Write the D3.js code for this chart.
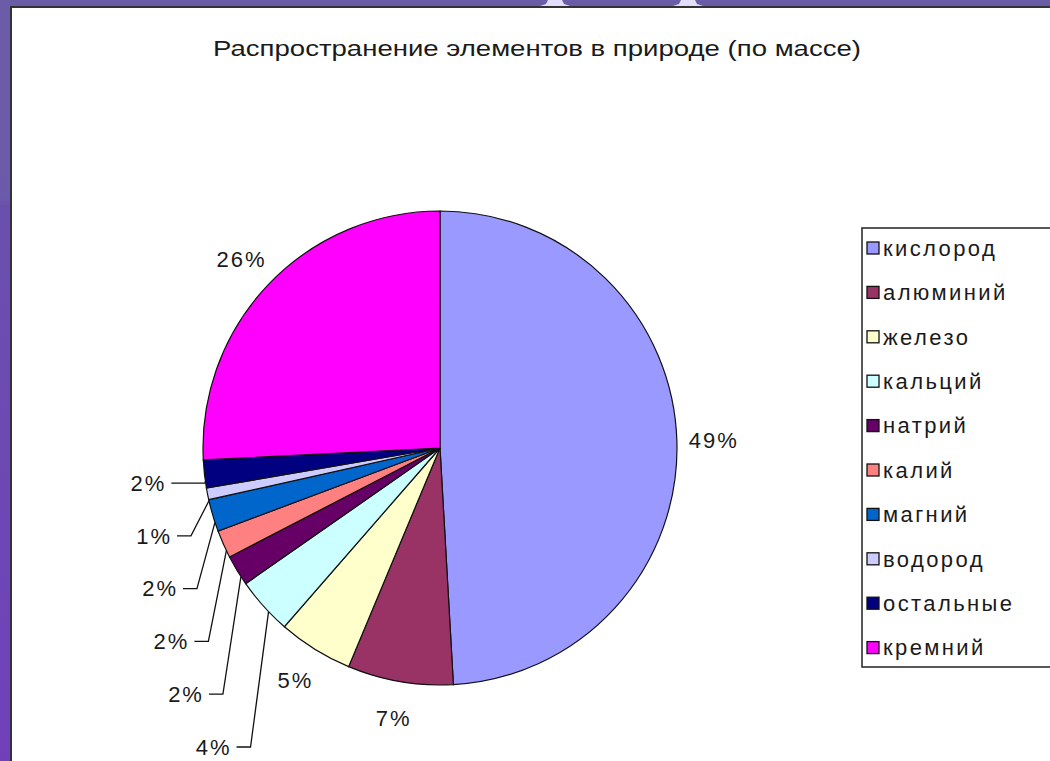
<!DOCTYPE html>
<html>
<head>
<meta charset="utf-8">
<script src="https://cdn.jsdelivr.net/npm/d3@7"></script>
<style>
  html, body { margin: 0; padding: 0; background: #6b5ba8; overflow: hidden; }
  text { font-family: "Liberation Sans", Arial, sans-serif; fill: #1a1a1a; }
</style>
</head>
<body>
<div class="interactive"></div>
<script>
// chart data (percent by mass)
const ELEMENTS = ["кислород", "алюминий", "железо", "кальций", "натрий",
  "калий", "магний", "водород", "остальные", "кремний"];
const VALUES = [49.1, 7.2, 5.1, 3.9, 2.1, 1.9, 2.2, 0.8, 1.9, 25.8];
const COLORS = ["#9999ff", "#993366", "#ffffcc", "#ccffff", "#660066",
  "#ff8080", "#0066cc", "#ccccff", "#000080", "#ff00ff"];
const TITLE = "Распространение элементов в природе (по массе)";

// slices that get a label pulled out on a leader line
const LEADER = ["остальные", "водород", "магний", "калий", "натрий", "кальций"];

const WIDTH = 1050;
const HEIGHT = 761;
const CX = 440;
const CY = 448;
const RADIUS = 237;

const data = ELEMENTS.map((d, i) => ({ name: d, value: VALUES[i], color: COLORS[i] }));
const total = d3.sum(VALUES);
const fmt = v => Math.round(v / total * 100) + "%";

const svg = d3.select(".interactive")
  .append("svg")
  .attr("width", WIDTH)
  .attr("height", HEIGHT);

// slide frame: purple band with the white chart panel
const bg = svg.append("defs").append("linearGradient")
  .attr("id", "side").attr("x1", 0).attr("y1", 0).attr("x2", 0).attr("y2", 1);
bg.append("stop").attr("offset", "0%").attr("stop-color", "#6b5ca8");
bg.append("stop").attr("offset", "26%").attr("stop-color", "#6b5aa9");
bg.append("stop").attr("offset", "27%").attr("stop-color", "#6a50ad");
bg.append("stop").attr("offset", "100%").attr("stop-color", "#7040bb");
svg.append("rect").attr("width", WIDTH).attr("height", HEIGHT).attr("fill", "url(#side)");
svg.append("rect").attr("width", WIDTH).attr("height", 8).attr("fill", "#6b5ca8");

// bits of the slide heading peeking in at the top
[[540, 570], [673, 703]].forEach(([a, b]) => {
  svg.append("path")
    .attr("d", `M${a + 8},0 L${b - 8},0 L${b - 6},4 L${b},6 L${a},6 L${a + 6},4 Z`)
    .attr("fill", "#e2def7");
});

svg.append("rect")
  .attr("x", 10).attr("y", 6)
  .attr("width", WIDTH).attr("height", HEIGHT)
  .attr("fill", "#333");
svg.append("rect")
  .attr("x", 12).attr("y", 8)
  .attr("width", WIDTH).attr("height", HEIGHT)
  .attr("fill", "#fff");

svg.append("text")
  .attr("x", 537)
  .attr("y", 56)
  .attr("text-anchor", "middle")
  .attr("font-size", 22)
  .attr("textLength", 648)
  .attr("lengthAdjust", "spacingAndGlyphs")
  .text(TITLE);

// pie, clockwise from twelve o'clock in legend order
const pie = d3.pie().sort(null).value(d => d.value);
const arc = d3.arc().innerRadius(0).outerRadius(RADIUS);
const arcs = pie(data);

const g = svg.append("g").attr("transform", `translate(${CX},${CY})`);

g.selectAll("path")
  .data(arcs)
  .join("path")
  .attr("d", arc)
  .attr("fill", d => d.data.color)
  .attr("stroke", "#111")
  .attr("stroke-width", 1.2);

const midAngle = d => (d.startAngle + d.endAngle) / 2;
const polar = (a, r) => [Math.sin(a) * r, -Math.cos(a) * r];

// plain labels for the big slices
const LABEL_R = 274;
g.selectAll("text.plain")
  .data(arcs.filter(d => LEADER.indexOf(d.data.name) < 0))
  .join("text")
  .attr("class", "plain")
  .attr("x", d => polar(midAngle(d), LABEL_R)[0])
  .attr("y", d => polar(midAngle(d), LABEL_R)[1])
  .attr("dy", "0.35em")
  .attr("text-anchor", "middle")
  .attr("font-size", 22)
  .attr("letter-spacing", 2)
  .text(d => fmt(d.data.value));

// leader labels stacked down the left side
const ROW0 = 483 - CY;
const ROW_STEP = 52.8;
const leaders = LEADER.map((name, i) => {
  const d = arcs.find(a => a.data.name === name);
  // Excel hooks the leader a little past the slice middle
  const anchor = polar(midAngle(d) - 0.03, RADIUS);
  const y = i === 0 ? anchor[1] + 2 : ROW0 + i * ROW_STEP;
  const elbow = [anchor[0] - 18, y];
  return { d, anchor, elbow, y };
});
leaders[0].elbow = [leaders[0].anchor[0], leaders[0].y];

g.selectAll("path.leader")
  .data(leaders)
  .join("path")
  .attr("class", "leader")
  .attr("fill", "none")
  .attr("stroke", "#111")
  .attr("stroke-width", 1.3)
  .attr("d", l => {
    const tail = l.elbow[0] - (l === leaders[0] ? 34 : 14);
    return `M${tail},${l.y} L${l.elbow[0]},${l.y} L${l.anchor[0]},${l.anchor[1]}`;
  });

g.selectAll("text.leader")
  .data(leaders)
  .join("text")
  .attr("class", "leader")
  .attr("x", l => l.elbow[0] - (l === leaders[0] ? 39 : 19))
  .attr("y", l => l.y)
  .attr("dy", "0.35em")
  .attr("text-anchor", "end")
  .attr("font-size", 22)
  .attr("letter-spacing", 2)
  .text(l => fmt(l.d.data.value));

// legend box, cut off by the right edge like the reference
const LEGEND_X = 862;
const LEGEND_Y = 228;
const ROW_H = 44.4;
const legend = svg.append("g").attr("transform", `translate(${LEGEND_X},${LEGEND_Y})`);
legend.append("rect")
  .attr("width", 220)
  .attr("height", 439)
  .attr("fill", "#fff")
  .attr("stroke", "#222")
  .attr("stroke-width", 1.5);

const rows = legend.selectAll("g.row")
  .data(data)
  .join("g")
  .attr("class", "row")
  .attr("transform", (d, i) => `translate(5,${20 + i * ROW_H})`);
rows.append("rect")
  .attr("y", -6)
  .attr("width", 12)
  .attr("height", 12)
  .attr("fill", d => d.color)
  .attr("stroke", "#111")
  .attr("stroke-width", 1.3);
rows.append("text")
  .attr("x", 16)
  .attr("dy", "0.35em")
  .attr("font-size", 22)
  .attr("letter-spacing", 2.4)
  .text(d => d.name);
</script>
</body>
</html>
